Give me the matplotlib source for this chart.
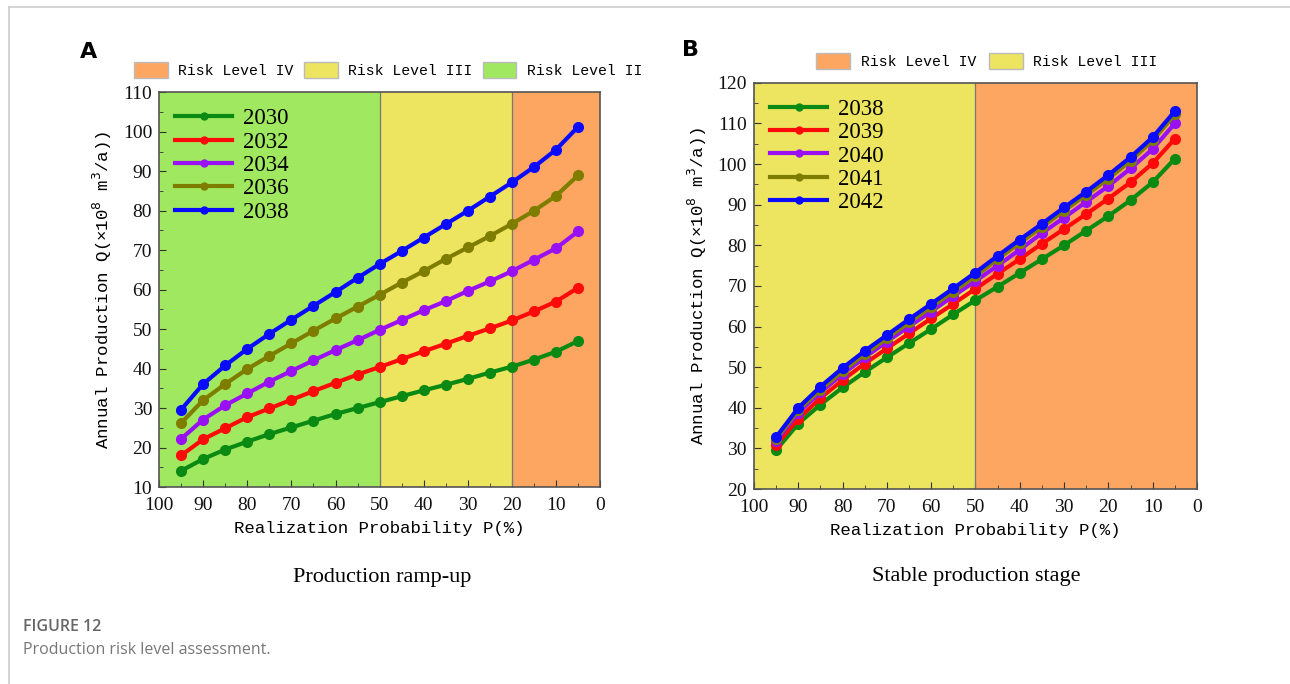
import matplotlib.pyplot as plt
from matplotlib.patches import Patch
from matplotlib.lines import Line2D

# Datos
prob = [95, 90, 85, 80, 75, 70, 65, 60, 55, 50, 45, 40, 35, 30, 25, 20, 15, 10, 5]

años_a = ['2030', '2032', '2034', '2036', '2038']
q_2030 = [14.1, 17.1, 19.5, 21.5, 23.4, 25.1, 26.8, 28.5, 30.0, 31.5, 33.0, 34.5, 35.9, 37.4, 39.0, 40.5, 42.3, 44.3, 47.0]
q_2032 = [18.0, 22.1, 24.9, 27.7, 29.9, 32.1, 34.3, 36.4, 38.5, 40.4, 42.4, 44.4, 46.3, 48.3, 50.2, 52.2, 54.5, 57.0, 60.5]
q_2034 = [22.2, 27.1, 30.7, 33.7, 36.7, 39.4, 42.1, 44.7, 47.2, 49.8, 52.3, 54.8, 57.1, 59.7, 62.1, 64.7, 67.6, 70.5, 74.8]
q_2036 = [26.2, 32.0, 36.1, 39.9, 43.2, 46.4, 49.6, 52.7, 55.7, 58.7, 61.8, 64.7, 67.8, 70.7, 73.6, 76.7, 80.0, 83.8, 89.0]
q_2038 = [29.6, 36.1, 40.8, 45.0, 48.8, 52.4, 55.9, 59.4, 63.0, 66.5, 69.8, 73.2, 76.6, 80.0, 83.6, 87.2, 91.1, 95.5, 101.3]

años_b = ['2038', '2039', '2040', '2041', '2042']
q_2039 = [30.8, 37.3, 42.4, 46.8, 50.9, 54.6, 58.3, 62.0, 65.6, 69.3, 73.0, 76.6, 80.4, 84.0, 87.7, 91.5, 95.5, 100.2, 106.2]
q_2040 = [31.9, 38.8, 43.8, 48.3, 52.4, 56.3, 60.0, 63.7, 67.5, 71.2, 75.0, 78.9, 83.0, 86.8, 90.7, 94.6, 98.9, 103.7, 110.0]
q_2041 = [32.3, 39.4, 44.5, 49.0, 53.2, 57.1, 61.0, 64.8, 68.6, 72.4, 76.6, 80.6, 84.5, 88.5, 92.4, 96.4, 100.8, 105.8, 112.2]
q_2042 = [32.8, 40.0, 45.2, 49.8, 54.0, 57.9, 61.8, 65.6, 69.4, 73.3, 77.4, 81.4, 85.3, 89.3, 93.2, 97.3, 101.7, 106.6, 113.0]

colores = ['#0a8a12', '#ff0a0a', '#9a10f5', '#7f7d00', '#0a0aff']
verde, amarillo, naranja = '#a0e85f', '#ede45f', '#fda662'

fuente_num = 'Liberation Serif'
fuente_txt = 'Liberation Mono'

fig = plt.figure(figsize=(12.9, 6.84), dpi=100)

# Marco gris de la página
fig.add_artist(Line2D([0.007, 1.0], [0.990, 0.990], color='#cccccc', lw=1.2))
fig.add_artist(Line2D([0.007, 0.007], [0.0, 0.990], color='#cccccc', lw=1.2))


def dibujar_series(ax, series, etiquetas):
    for q, etq, c in zip(series, etiquetas, colores):
        ax.plot(prob, q, color=c, lw=3, marker='o', ms=7, mfc=c, mec=c, label=etq)
    leg = ax.legend(loc='upper left', frameon=False, handlelength=2.5, borderaxespad=0.1,
                    borderpad=0.6, labelspacing=0.1, handletextpad=0.45,
                    prop={'family': fuente_num, 'size': 16.5})
    for h in leg.legend_handles:
        h.set_markersize(5)


def formato_ejes(ax, ymin, ymax):
    ax.set_xlim(100, 0)
    ax.set_ylim(ymin, ymax)
    ax.set_xticks(range(100, -1, -10))
    ax.set_xticks(range(95, 0, -10), minor=True)
    ax.set_yticks(range(ymin, ymax + 1, 10))
    ax.set_yticks(range(ymin + 5, ymax, 10), minor=True)
    ax.tick_params(which='both', direction='in', top=False, right=False, colors='#333333')
    ax.tick_params(which='major', length=5)
    ax.tick_params(which='minor', length=3)
    ax.tick_params(axis='x', pad=7)
    ax.tick_params(axis='y', pad=5)
    for lab in ax.get_xticklabels() + ax.get_yticklabels():
        lab.set_fontfamily(fuente_num)
        lab.set_fontsize(14)
        lab.set_color('#111111')
    for s in ax.spines.values():
        s.set_color('#555555')
        s.set_linewidth(1.2)
    ax.set_xlabel('Realization Probability P(%)', family=fuente_txt, fontsize=12.5, labelpad=5)
    ax.set_ylabel('Annual Production Q(×10$^8$ m$^3$/a))', family=fuente_txt, fontsize=12.5, labelpad=6)


# Panel A: Production ramp-up
ax1 = fig.add_axes([0.1233, 0.288, 0.342, 0.577])
ax1.axvspan(100, 50, color=verde, lw=0)
ax1.axvspan(50, 20, color=amarillo, lw=0)
ax1.axvspan(20, 0, color=naranja, lw=0)
for x in [50, 20]:
    ax1.axvline(x, color='#777777', lw=0.9)
dibujar_series(ax1, [q_2030, q_2032, q_2034, q_2036, q_2038], años_a)
formato_ejes(ax1, 10, 110)

parches_a = [Patch(facecolor=naranja, edgecolor='#bbbbbb', label='Risk Level IV'),
             Patch(facecolor=amarillo, edgecolor='#bbbbbb', label='Risk Level III'),
             Patch(facecolor=verde, edgecolor='#bbbbbb', label='Risk Level II')]
fig.legend(handles=parches_a, loc='center left', bbox_to_anchor=(0.097, 0.898), ncol=3,
           frameon=False, handlelength=2.3, handleheight=1.3, columnspacing=0.7,
           handletextpad=0.7, borderpad=0.1, prop={'family': fuente_txt, 'size': 10.6})

# Panel B: Stable production stage
ax2 = fig.add_axes([0.5845, 0.285, 0.3434, 0.594])
ax2.axvspan(100, 50, color=amarillo, lw=0)
ax2.axvspan(50, 0, color=naranja, lw=0)
ax2.axvline(50, color='#777777', lw=0.9)
dibujar_series(ax2, [q_2038, q_2039, q_2040, q_2041, q_2042], años_b)
formato_ejes(ax2, 20, 120)

parches_b = [Patch(facecolor=naranja, edgecolor='#bbbbbb', label='Risk Level IV'),
             Patch(facecolor=amarillo, edgecolor='#bbbbbb', label='Risk Level III')]
fig.legend(handles=parches_b, loc='center left', bbox_to_anchor=(0.626, 0.911), ncol=2,
           frameon=False, handlelength=2.3, handleheight=1.3, columnspacing=0.9,
           handletextpad=0.7, borderpad=0.1, prop={'family': fuente_txt, 'size': 10.6})

# Letras de panel y subtítulos
fig.text(0.062, 0.924, 'A', fontsize=16, fontweight='bold', family='DejaVu Sans', va='center')
fig.text(0.529, 0.927, 'B', fontsize=16, fontweight='bold', family='DejaVu Sans', va='center')
fig.text(0.296, 0.155, 'Production ramp-up', fontsize=16, family='Liberation Serif', ha='center', va='center')
fig.text(0.757, 0.157, 'Stable production stage', fontsize=16, family='Liberation Serif', ha='center', va='center')

# Pie de figura
fig.text(0.018, 0.083, 'FIGURE 12', fontsize=11.5, fontweight='semibold', family='Open Sans', color='#666666', va='center')
fig.text(0.018, 0.050, 'Production risk level assessment.', fontsize=11.5, family='Open Sans', color='#777777', va='center')

plt.savefig('out.png', dpi=100)
